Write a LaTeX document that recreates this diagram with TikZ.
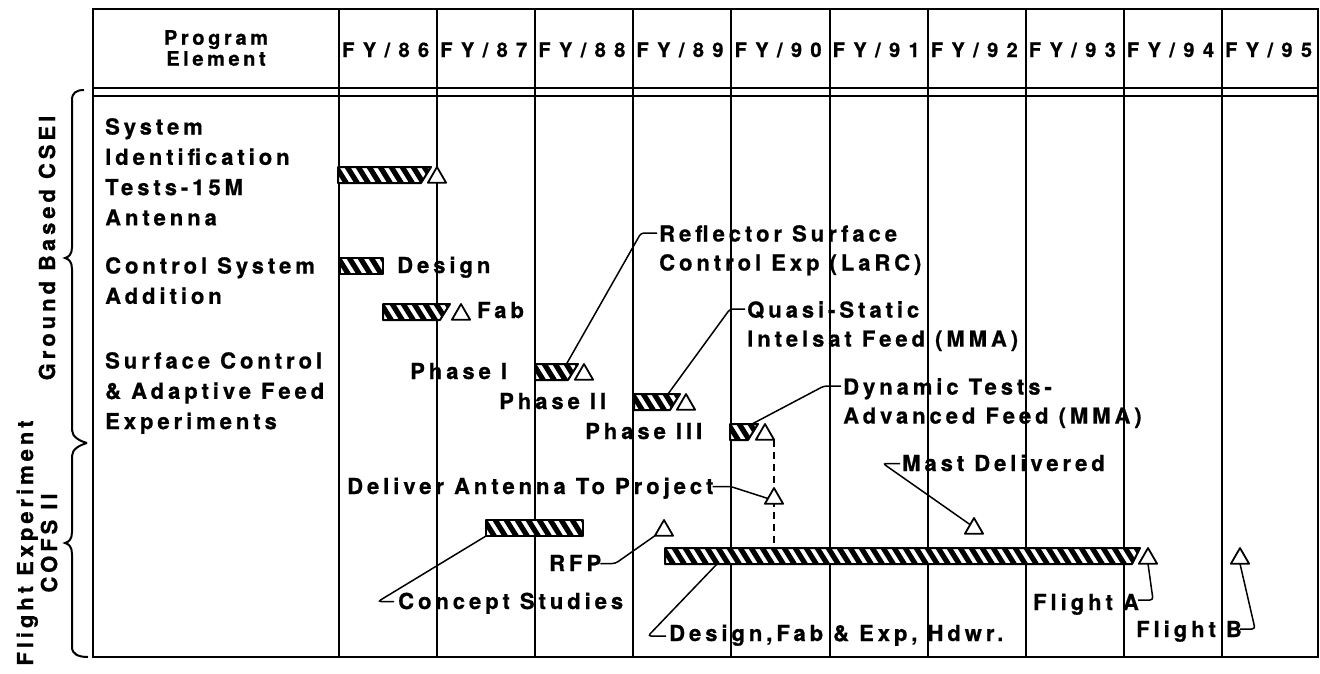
\documentclass[tikz,border=0pt]{standalone}
\usepackage{fontspec}
\setmainfont{TeX Gyre Heros}
\newfontfamily\labfont{texgyreheros}[Extension=.otf, UprightFont=*-bold, LetterSpace=18, FakeBold=0.8]
\newfontfamily\fyfont{texgyreheros}[Extension=.otf, UprightFont=*-bold, LetterSpace=42, FakeBold=0.8]
\usetikzlibrary{shapes.geometric,calc}

\tikzset{
  tline/.style={line width=2pt},
  txt/.style={inner sep=0pt, font=\labfont\fontsize{22}{30.3}\selectfont, align=left},
  hdr/.style={inner sep=0pt, font=\labfont\fontsize{20}{21}\selectfont, align=center},
  fylab/.style={inner sep=0pt, font=\fyfont\fontsize{20}{21}\selectfont},
  mstone/.style={regular polygon, regular polygon sides=3, draw, fill=white, line width=1.8pt,
    minimum size=21pt, inner sep=0pt, outer sep=0pt, line join=round},
  conn/.style={line width=1.5pt, rounded corners=3pt},
  bracepath/.style={line width=2pt},
  barframe/.style={inner sep=0pt, outer sep=0pt, minimum height=16pt},
  dashline/.style={line width=1.5pt, dash pattern=on 7pt off 5pt},
}

% name, x1, x2, y-centre, slant of right end
\newcommand\ganttbar[5]{%
  \begin{scope}
    \clip (#2,#4-8) -- (#3,#4-8) -- (#3-#5,#4+8) -- (#2,#4+8) -- cycle;
    \fill[white] (#2,#4-8) rectangle (#3,#4+8);
    \foreach \k in {0,...,48} {\draw[line width=5.2pt] ({#2-14+11*\k},#4-10) -- ++(12.5,20);}
  \end{scope}
  \draw[line width=2pt, line join=round] (#2,#4-8) -- (#3,#4-8) -- (#3-#5,#4+8) -- (#2,#4+8) -- cycle;
  \node[barframe, minimum width={#3-#2}] (#1) at ({(#2+#3)/2},#4) {};
}

\begin{document}
\begin{tikzpicture}[x=1pt,y=-1pt]
\useasboundingbox (0,0) rectangle (1320,673);
\fill[white] (0,0) rectangle (1320,673);

% table
\draw[line width=2.4pt] (93,9) rectangle (1318,657);
\draw[tline] (93,88) -- (1318,88);
\draw[tline] (93,96) -- (1318,96);
\foreach \k in {0,...,9} {\draw[tline] ({339+98.1*\k},9) -- ({339+98.1*\k},657);}

% header
\node[hdr] (pe) at (216,48) {Program\\Element};
\foreach \k/\t in {0/86,1/87,2/88,3/89,4/90,5/91,6/92,7/93,8/94,9/95}
  {\node[fylab, anchor=base west] (fy\t) at ({342+98.1*\k},57) {FY/\t};}

% braces and group labels
\draw[bracepath] (84,90) .. controls (76,90) and (72,93) .. (72,100) -- (72,247)
  .. controls (72,254) and (69,257) .. (65,258) .. controls (69,259) and (72,262) .. (72,269)
  -- (72,430) .. controls (72,437) and (80,441) .. (87,443);
\draw[bracepath] (87,443) .. controls (80,445) and (72,449) .. (72,456) -- (72,532)
  .. controls (72,539) and (69,542) .. (65,543) .. controls (69,544) and (72,547) .. (72,554)
  -- (72,647) .. controls (72,654) and (78,657) .. (88,657);
\node[txt, rotate=90, anchor=base] (gb) at (55,248) {Ground Based CSEI};
\node[txt, rotate=90, align=center, font=\labfont\fontsize{22}{24}\selectfont] (fe) at (37,543) {Flight Experiment\\COFS II};

% program elements
\node[txt, anchor=north west] (pe1) at (105,118) {System\\Identification\\Tests-15M\\Antenna};
\node[txt, anchor=north west] (pe2) at (105,257) {Control System\\Addition};
\node[txt, anchor=north west] (pe3) at (105,352) {Surface Control\\\& Adaptive Feed\\Experiments};

% bars
\ganttbar{b1}{338}{431}{175}{10}
\ganttbar{b2}{340}{383}{266}{0}
\ganttbar{b3}{383}{450}{312}{10}
\ganttbar{b4}{535}{578}{372}{10}
\ganttbar{b5}{634}{680}{402}{10}
\ganttbar{b6}{730}{758}{432}{10}
\ganttbar{b7}{486}{583}{528}{0}
\ganttbar{b8}{665}{1140}{556}{8}

% labels
\node[txt, anchor=base west] (ldesign) at (397,273) {Design};
\node[txt, anchor=base west] (lfab) at (477,318) {Fab};
\node[txt, anchor=base west] (lp1) at (410,379) {Phase I};
\node[txt, anchor=base west] (lp2) at (499,409) {Phase II};
\node[txt, anchor=base west] (lp3) at (585,439) {Phase III};
\node[txt, anchor=north west, font=\labfont\fontsize{22}{29}\selectfont] (lref) at (659,225) {Reflector Surface\\Control Exp (LaRC)};
\node[txt, anchor=north west, font=\labfont\fontsize{22}{29}\selectfont] (lqs) at (747,301) {Quasi-Static\\Intelsat Feed (MMA)};
\node[txt, anchor=north west, font=\labfont\fontsize{22}{29}\selectfont] (ldt) at (843,378) {Dynamic Tests-\\Advanced Feed (MMA)};
\node[txt, anchor=base west] (ldel) at (347,494) {Deliver Antenna To Project};
\node[txt, anchor=base west] (lmast) at (902,471) {Mast Delivered};
\node[txt, anchor=base west] (lrfp) at (549,571) {RFP};
\node[txt, anchor=base west] (lcs) at (398,609) {Concept Studies};
\node[txt, anchor=base west] (ldes) at (669,641) {Design,Fab \& Exp, Hdwr.};
\node[txt, anchor=base west] (lfa) at (1033,610) {Flight A};
\node[txt, anchor=base west] (lfb) at (1136,637) {Flight B};

% milestones
\node[mstone] (t1) at (437,177.5) {};
\node[mstone] (t3) at (461,314.5) {};
\node[mstone] (t4) at (584,374.5) {};
\node[mstone] (t5) at (686,404.5) {};
\node[mstone] (t6) at (765,434.5) {};

% dashed link (drawn below the delivery milestone)
\draw[dashline] (t6.corner 3) -- (t6.corner 3 |- b8.north);

\node[mstone] (tdel) at (774,498.5) {};
\node[mstone] (trfp) at (664,530.5) {};
\node[mstone] (tmast) at (974,528.5) {};
\node[mstone] (tfa) at (1148,558.5) {};
\node[mstone] (tfb) at (1240,558.5) {};

% connectors
\draw[conn] ($(lref.north west)+(-2,8)$) -- ++(-16,0) -- ($(b4.north)+(10,0)$);
\draw[conn] ($(lqs.north west)+(-2,8)$) -- ++(-15,0) -- ($(b5.north)+(11,0)$);
\draw[conn] ($(ldt.north west)+(-2,8)$) -- ++(-17,0) -- ($(b6.north)+(8,0)$);
\draw[conn] ($(ldel.base east)+(-1,-7.5)$) -- ++(18,0) -- (tdel.west);
\draw[conn] ($(lmast.base west)+(-2,-7.5)$) -- ++(-17,0) -- (tmast.north west);
\draw[conn] ($(lrfp.base east)+(-1,-7.5)$) -- ++(15,0) -- (trfp.corner 2);
\draw[conn] (b7.south west) -- ($(lcs.base west)+(-20,-7.5)$) -- ($(lcs.base west)+(-4,-7.5)$);
\draw[conn] ($(b8.south west)+(52,0)$) -- ($(ldes.base west)+(-21,-5)$) -- ($(ldes.base west)+(-3,-5)$);
\draw[conn] ($(lfa.base east)+(-1,-10)$) -- ++(15,0) -- (tfa.south);
\draw[conn] ($(lfb.base east)+(-2,-8)$) -- ++(15,0) -- (tfb.south);
\end{tikzpicture}
\end{document}
